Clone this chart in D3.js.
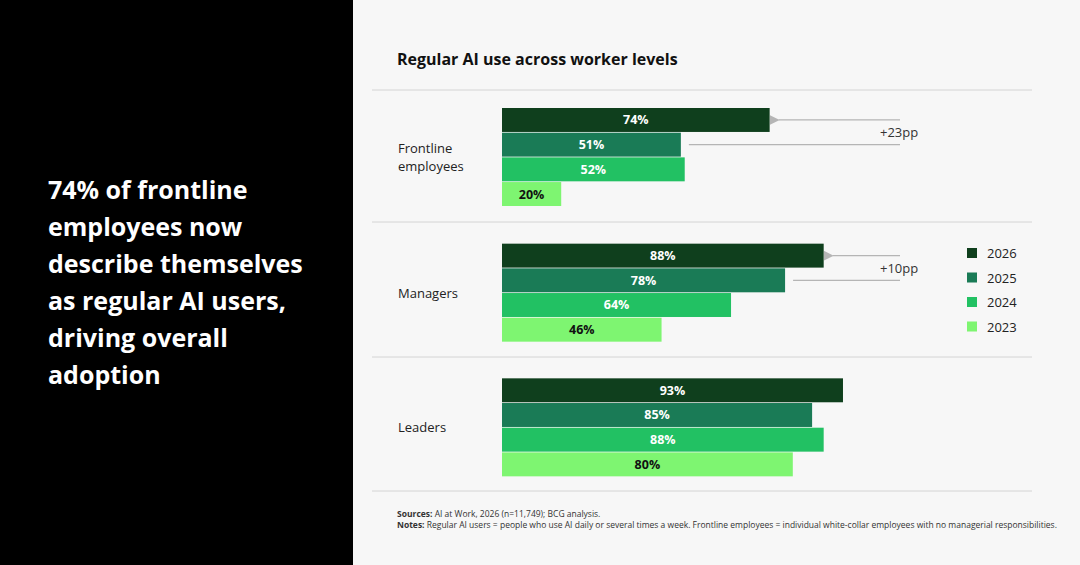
<!DOCTYPE html>
<html><head><meta charset="utf-8">
<script src="https://cdn.jsdelivr.net/npm/d3@7"></script>
<style>body{margin:0;background:#f7f7f7;font-family:"Open Sans",Arial,sans-serif}</style>
</head><body>
<script>
const groups = ["Frontline employees", "Managers", "Leaders"];
const years = ["2026", "2025", "2024", "2023"];
const values = [[74, 51, 52, 20], [88, 78, 64, 46], [93, 85, 88, 80]];
const deltas = ["+23pp", "+10pp", null];
const colors = ["#0f3f1d", "#1a7b56", "#22c163", "#7ef571"];

const W = 1080, H = 565;
const svg = d3.select("body").append("svg").attr("width", W).attr("height", H);
svg.append("rect").attr("width", W).attr("height", H).attr("fill", "#f7f7f7");
svg.append("rect").attr("width", 353).attr("height", H).attr("fill", "#000");

const head = ["74% of frontline", "employees now", "describe themselves", "as regular AI users,", "driving overall", "adoption"];
svg.append("text").attr("fill", "#fff").attr("font-size", 25).attr("font-weight", 700)
  .selectAll("tspan").data(head).join("tspan")
  .attr("x", 48).attr("y", (d, i) => 199 + i * 37).text(d => d);

svg.append("text").attr("x", 397).attr("y", 65).attr("font-size", 16).attr("font-weight", 700)
  .attr("fill", "#111").text("Regular AI use across worker levels");

const x = d3.scaleLinear().domain([0, 100]).range([484, 870]);
const x0 = 502;
const gy = d3.scaleBand().domain(groups).range([90, 491]);
const by = d3.scaleBand().domain(years).range([0, 98]).paddingInner(0.03);

[90, 222, 357, 491].forEach(y => svg.append("line").attr("x1", 372).attr("x2", 1032)
  .attr("y1", y).attr("y2", y).attr("stroke", "#d4d4d4"));

const defs = svg.append("defs");
defs.append("marker").attr("id", "ar").attr("viewBox", "0 0 10 10").attr("refX", 1).attr("refY", 5)
  .attr("markerWidth", 10).attr("markerHeight", 10).attr("markerUnits", "userSpaceOnUse").attr("orient", "auto")
  .append("path").attr("d", "M10,0L0,5L10,10Z").attr("fill", "#b5b5b5");

groups.forEach((g, gi) => {
  const top = gy(g) + 18 + (gi === 0 ? 0 : gi === 1 ? 2 : 3);
  const mid = top + 49;
  const lab = g === "Frontline employees" ? ["Frontline", "employees"] : [g];
  svg.append("text").attr("font-size", 13).attr("fill", "#222")
    .selectAll("tspan").data(lab).join("tspan")
    .attr("x", 398).attr("y", (d, i) => mid + 5 + (i - (lab.length - 1) / 2) * 18).text(d => d);
  const gg = svg.append("g").attr("transform", `translate(0,${top})`);
  gg.selectAll("rect").data(values[gi]).join("rect")
    .attr("x", x0).attr("y", (d, i) => by(years[i])).attr("height", by.bandwidth())
    .attr("width", d => x(d) - x0).attr("fill", (d, i) => colors[i]);
  gg.selectAll("text").data(values[gi]).join("text")
    .attr("x", d => (x0 + x(d)) / 2).attr("y", (d, i) => by(years[i]) + by.bandwidth() / 2 + 4.5)
    .attr("text-anchor", "middle").attr("font-size", 12.5).attr("font-weight", 700)
    .attr("fill", (d, i) => i === 3 ? "#111" : "#fff").text(d => d + "%");
  if (deltas[gi]) {
    const ya = top + by(years[0]) + by.bandwidth() / 2, yb = top + by(years[1]) + by.bandwidth() / 2;
    svg.append("line").attr("x1", 900).attr("x2", x(values[gi][0]) + 9).attr("y1", ya).attr("y2", ya)
      .attr("stroke", "#b5b5b5").attr("stroke-width", 1.2).attr("marker-end", "url(#ar)");
    svg.append("line").attr("x1", 900).attr("x2", x(values[gi][1]) + 8).attr("y1", yb).attr("y2", yb)
      .attr("stroke", "#b5b5b5").attr("stroke-width", 1.2);
    svg.append("text").attr("x", 880).attr("y", (ya + yb) / 2 + 5).attr("font-size", 13)
      .attr("fill", "#333").text(deltas[gi]);
  }
});

const lg = svg.append("g").selectAll("g").data(years).join("g")
  .attr("transform", (d, i) => `translate(967,${248 + i * 24.5})`);
lg.append("rect").attr("width", 10).attr("height", 10).attr("fill", (d, i) => colors[i]);
lg.append("text").attr("x", 20).attr("y", 10).attr("font-size", 13).attr("fill", "#222").text(d => d);

const notes = svg.append("g").attr("font-size", 8.5).attr("fill", "#333");
const t1 = notes.append("text").attr("x", 397).attr("y", 517);
t1.append("tspan").attr("font-weight", 700).text("Sources: ");
t1.append("tspan").text("AI at Work, 2026 (n=11,749); BCG analysis.");
const t2 = notes.append("text").attr("x", 397).attr("y", 528);
t2.append("tspan").attr("font-weight", 700).text("Notes: ");
t2.append("tspan").text("Regular AI users = people who use AI daily or several times a week. Frontline employees = individual white-collar employees with no managerial responsibilities.");
</script>
</body></html>
